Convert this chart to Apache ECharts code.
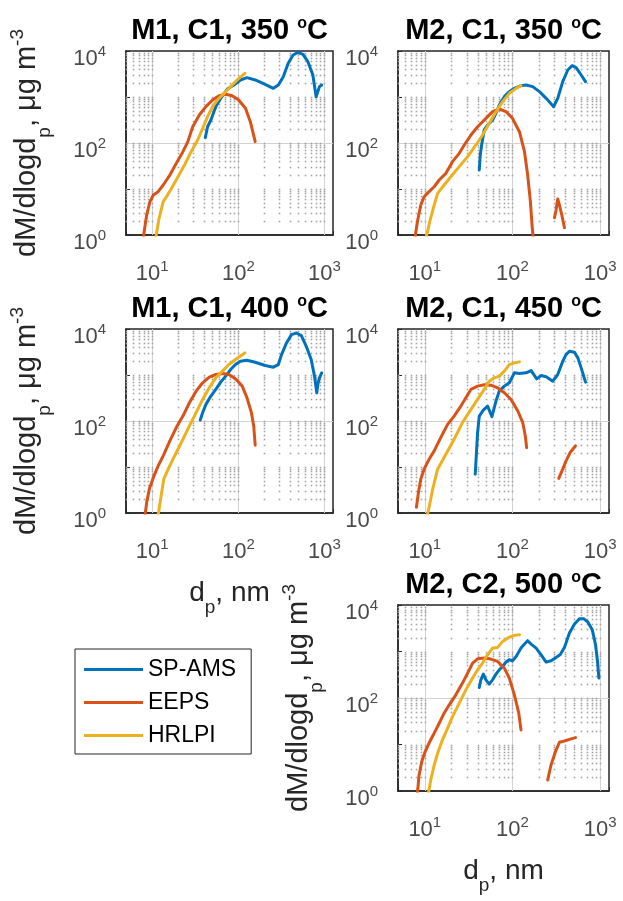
<!DOCTYPE html>
<html>
<head>
<meta charset="utf-8">
<script src="https://cdn.jsdelivr.net/npm/echarts@6/dist/echarts.min.js"></script>
<style>html,body{margin:0;padding:0;background:#fff}#chart{width:623px;height:901px}</style>
</head>
<body>
<div id="chart"></div>
<script>
// ---------------- data ----------------
const seriesNames = ['SP-AMS', 'EEPS', 'HRLPI'];
const panelTitles = ['M1, C1, 350', 'M2, C1, 350', 'M1, C1, 400', 'M2, C1, 450', 'M2, C2, 500'];

// Panel 1: M1, C1, 350 °C
const p1Ams = [[41.3,131],[43.9,226],[48.0,316],[54.7,617],[62.4,935],[74.5,1493],[88.8,1824],[106,2344],[126,2633],[157,2344],[205,1884],[255,1542],[292,1824],[333,2766],[380,5395],[433,8185],[494,9355],[564,8465],[644,5865],[735,3006],[802,1016],[839,1306],[877,1679],[931,1824]];
const p1Eeps = [[7.88,0.9],[8.6,2.72],[9.4,5.3],[10.3,7.4],[11.7,8.75],[13.4,12.2],[16.0,20.1],[19.0,36.1],[22.7,64.9],[25.9,107],[29.5,226],[35.2,406],[42.0,617],[50.1,861],[59.7,1069],[71.3,1143],[85.0,1069],[101,861],[121,568],[138,291],[157,107]];
const p1Hrlpi = [[11.0,0.9],[12.0,2.3],[13.4,5.3],[14.6,6.8],[16.7,10.3],[19.9,18.5],[23.7,33.3],[28.3,64.9],[33.7,116],[38.5,208],[43.9,374],[50.1,617],[57.1,861],[68.2,1202],[81.3,1679],[97.0,2344],[119,3268]];

// Panel 2: M2, C1, 350 °C
const p2Ams = [[41.8,25.9],[42.9,54.8],[44.8,98.4],[47.6,192],[52.0,246],[59.3,316],[64.8,442],[70.7,670],[80.7,1016],[92.0,1306],[105,1542],[125,1762],[143,1824],[170,1679],[203,1306],[242,935],[295,617],[328,935],[374,2153],[427,3862],[479,4800],[532,4345],[607,3006],[680,2153]];
const p2EepsA = [[7.75,0.9],[8.24,1.95],[9.0,4.49],[9.82,6.8],[11.2,8.75],[12.8,11.2],[14.6,15.7],[17.4,21.9],[20.7,39.3],[24.7,59.6],[28.2,90.5],[33.6,149],[40.0,226],[49.8,344],[59.3,480],[70.7,548],[84.3,480],[100,344],[120,176],[137,64.9],[149,20.1],[160,5.3],[167,1.65],[172,0.9]];
const p2EepsB = [[301,2.38],[314,3.49],[328,6.07],[343,4.49],[365,2.72],[391,1.44]];
const p2Hrlpi = [[10.4,0.9],[11.4,1.95],[12.8,4.49],[14.0,8.05],[16.6,12.2],[19.8,18.5],[24.7,30.6],[30.8,50.5],[38.3,90.5],[45.6,149],[54.3,268],[64.8,480],[77.2,792],[92.0,1202],[110,1542],[125,1762]];

// Panel 3: M1, C1, 400 °C
const p3Ams = [[36.1,105],[38.5,152],[42.0,230],[48.0,348],[54.7,486],[62.4,700],[71.3,944],[81.3,1315],[92.7,1687],[106,1994],[126,2096],[157,1896],[205,1606],[255,1479],[292,1687],[318,2780],[363,4977],[415,7540],[473,8190],[540,7178],[616,4215],[703,2166],[768,944],[816,411],[839,622],[877,869],[931,1114]];
const p3Eeps = [[8.24,0.9],[8.61,1.70],[9.24,3.31],[10.3,5.93],[11.7,10.6],[13.4,17.5],[16.0,36.9],[19.0,71.8],[22.7,128],[27.0,249],[32.3,446],[38.5,677],[45.9,897],[54.7,1025],[65.3,1077],[77.8,1025],[92.7,826],[111,573],[126,320],[142,152],[151,78],[157,29.7]];
const p3Hrlpi = [[11.7,0.9],[12.5,2.01],[13.6,5.44],[15.3,8.97],[17.4,14.8],[19.9,24.3],[22.7,40.1],[27.0,78],[32.3,152],[38.5,294],[45.9,527],[54.7,869],[65.3,1211],[77.8,1687],[92.7,2166],[119,3020]];

// Panel 4: M2, C1, 450 °C
const p4Ams = [[37.6,7.0],[40.0,55.8],[41.8,128],[46.5,173],[52.0,211],[58.3,124],[64.8,271],[70.7,446],[80.7,573],[92.0,677],[105,1114],[120,1077],[143,1114],[163,1250],[189,826],[212,976],[242,913],[288,735],[328,1025],[374,1994],[408,2780],[446,3284],[509,3125],[556,2355],[607,1429],[680,700]];
const p4EepsA = [[8.03,1.33],[8.47,2.81],[9.0,5.45],[9.82,8.97],[11.2,14.8],[12.8,22.4],[15.2,43.5],[18.2,84.7],[21.6,128],[25.8,211],[29.4,320],[33.6,486],[40.0,573],[47.6,613],[56.8,602],[67.6,527],[80.7,411],[96.2,294],[115,165],[131,92],[140,47.3],[145,26.4]];
const p4EepsB = [[337,5.64],[374,8.97],[408,13.6],[454,20.6],[523,28.7]];
const p4Hrlpi = [[10.7,0.9],[11.4,1.57],[12.2,3.05],[14.0,8.97],[17.4,19.0],[21.6,40.1],[26.9,92],[33.6,179],[40.0,294],[47.6,486],[54.3,735],[62.0,869],[70.7,944],[80.7,1211],[92.0,1687],[105,1836],[120,1929]];

// Panel 5: M2, C2, 500 °C
const p5Ams = [[41.8,168],[43.6,246],[46.5,326],[49.8,246],[54.3,199],[59.3,246],[64.8,326],[70.7,404],[77.2,478],[84.3,592],[92.0,664],[100,632],[110,783],[125,1186],[137,1446],[149,1706],[163,1446],[186,1186],[212,850],[242,592],[275,632],[314,746],[349,850],[391,1225],[446,2496],[509,3898],[581,5078],[646,5078],[723,4305],[811,2946],[885,1396],[933,611],[966,268]];
const p5EepsA = [[8.24,0.9],[8.61,2.21],[9.24,4.29],[10.1,7.04],[11.4,11.6],[12.8,17.5],[14.6,28.7],[16.6,47.1],[19.0,71.3],[22.6,117],[26.9,209],[30.8,343],[35.1,563],[40.0,698],[47.6,721],[56.8,687],[67.6,611],[80.7,439],[92.0,268],[105,117],[118,47.1],[125,20.6]];
const p5EepsB = [[252,1.73],[275,3.63],[309,7.04],[343,11.2],[391,11.9],[466,13.2],[523,14.1]];
const p5Hrlpi = [[11.0,0.9],[11.7,1.73],[12.8,3.63],[14.0,6.48],[15.9,12.6],[18.2,22.4],[20.7,39.9],[24.7,77.4],[29.4,150],[35.1,268],[40.0,404],[45.6,563],[52.0,850],[59.3,1186],[67.6,1225],[77.2,1649],[90.4,2011],[105,2221],[120,2297]];

// axis ranges and grid-line values
const xRange = [4.95, 1260];
const yRange = [1, 10000];
const xMajorGrid = [10, 100, 1000];
const xMinorGrid = [5,6,7,8,9,20,30,40,50,60,70,80,90,200,300,400,500,600,700,800,900];
const yMajorGrid = [100];
const yMinorGrid = [2,3,4,5,6,7,8,9,10,20,30,40,50,60,70,80,90,200,300,400,500,600,700,800,900,1000,2000,3000,4000,5000,6000,7000,8000,9000];

// ---------------- layout / style ----------------
const FONT = "'Liberation Sans', Arial, Helvetica, sans-serif";
const COLORS = {'SP-AMS': '#0072BD', 'EEPS': '#D95319', 'HRLPI': '#EDB120'};
const AXIS_COLOR = '#262626';
const TICK_COLOR = '#4a4a4a';

const panels = [
  {grid: {left: 126, top: 51, width: 207, height: 184}, yName: true,  xName: false, ams: p1Ams, eeps: [p1Eeps], hrlpi: p1Hrlpi},
  {grid: {left: 398, top: 51, width: 211, height: 184}, yName: false, xName: false, ams: p2Ams, eeps: [p2EepsA, p2EepsB], hrlpi: p2Hrlpi},
  {grid: {left: 126, top: 329, width: 207, height: 184}, yName: true, xName: true, ams: p3Ams, eeps: [p3Eeps], hrlpi: p3Hrlpi},
  {grid: {left: 398, top: 329, width: 211, height: 184}, yName: false, xName: false, ams: p4Ams, eeps: [p4EepsA, p4EepsB], hrlpi: p4Hrlpi},
  {grid: {left: 398, top: 605, width: 211, height: 186}, yName: true, xName: true, ams: p5Ams, eeps: [p5EepsA, p5EepsB], hrlpi: p5Hrlpi}
];

function decadeExp(v) {
  const e = Math.log10(v);
  const r = Math.round(e);
  return Math.abs(e - r) < 1e-6 ? r : null;
}
function xLabel(v) {
  const r = decadeExp(v);
  return r === null ? '' : '{b|10}{s|' + r + '}';
}
function yLabel(v) {
  const r = decadeExp(v);
  return (r === null || r % 2 !== 0) ? '' : '{b|10}{s|' + r + '}';
}
const tickRich = {
  b: {fontSize: 22, fontFamily: FONT, color: TICK_COLOR},
  s: {fontSize: 15, fontFamily: FONT, color: TICK_COLOR, padding: [0, 0, 14, 0]}
};

const grids = [], xAxes = [], yAxes = [], titles = [], series = [];

panels.forEach((p, i) => {
  grids.push(Object.assign({show: true, borderColor: AXIS_COLOR, borderWidth: 1.5, backgroundColor: 'transparent'}, p.grid));
  titles.push({
    text: panelTitles[i] + ' {o|o}C',
    left: p.grid.left + p.grid.width / 2,
    top: p.grid.top - 35,
    textAlign: 'center',
    padding: 0,
    textStyle: {
      fontFamily: FONT, fontSize: 29, fontWeight: 'bold', color: '#000', lineHeight: 29,
      rich: {o: {fontFamily: FONT, fontSize: 16, fontWeight: 'bold', color: '#000', padding: [0, 0, 14, 0]}}
    }
  });
  xAxes.push({
    gridIndex: i, type: 'log', logBase: 10, min: xRange[0], max: xRange[1],
    axisLine: {show: true, onZero: false, lineStyle: {color: AXIS_COLOR, width: 1.5}},
    axisTick: {show: true, inside: true, length: 4, lineStyle: {color: AXIS_COLOR}},
    splitLine: {show: false},
    axisLabel: {formatter: xLabel, margin: 28, lineHeight: 22, color: TICK_COLOR, fontFamily: FONT, fontSize: 22, rich: tickRich},
    name: p.xName ? 'd{sub|p}, nm' : '',
    nameLocation: 'middle', nameGap: 65,
    nameTextStyle: {
      fontFamily: FONT, fontSize: 28, color: AXIS_COLOR, lineHeight: 30,
      rich: {sub: {fontFamily: FONT, fontSize: 19, color: AXIS_COLOR, padding: [30, 0, 0, 0]}}
    }
  });
  yAxes.push({
    gridIndex: i, type: 'log', logBase: 10, min: yRange[0], max: yRange[1],
    axisLine: {show: true, onZero: false, lineStyle: {color: AXIS_COLOR, width: 1.5}},
    axisTick: {show: true, inside: true, length: 4, lineStyle: {color: AXIS_COLOR}},
    splitLine: {show: false},
    axisLabel: {formatter: yLabel, margin: 20, padding: [15, 0, 0, 0], lineHeight: 22, color: TICK_COLOR, fontFamily: FONT, fontSize: 22, rich: tickRich},
    name: p.yName ? 'dM/dlogd{sub|p}, μg m{sup|-3}' : '',
    nameLocation: 'middle', nameRotate: 90, nameGap: 84,
    nameTextStyle: {
      fontFamily: FONT, fontSize: 29, color: AXIS_COLOR, lineHeight: 30,
      rich: {
        sub: {fontFamily: FONT, fontSize: 19, color: AXIS_COLOR, padding: [36, 0, 0, 0]},
        sup: {fontFamily: FONT, fontSize: 19, color: AXIS_COLOR, padding: [0, 0, 18, 0]}
      }
    }
  });

  // grid: major lines solid, minor grid drawn as the dotted lattice, all placed through the axes' scales
  series.push({
    type: 'custom', xAxisIndex: i, yAxisIndex: i, silent: true, z: 1,
    data: [[10, 10]],
    renderItem: function (params, api) {
      const bl = api.coord([xRange[0], yRange[0]]);
      const tr = api.coord([xRange[1], yRange[1]]);
      const kids = [];
      const major = {stroke: '#d2d2d2', lineWidth: 1};
      const dot = {fill: '#a3a3a3'};
      xMajorGrid.forEach(v => {
        const x = Math.round(api.coord([v, yRange[0]])[0]) + 0.5;
        kids.push({type: 'line', shape: {x1: x, y1: bl[1], x2: x, y2: tr[1]}, style: major});
      });
      yMajorGrid.forEach(v => {
        const y = Math.round(api.coord([xRange[0], v])[1]) + 0.5;
        kids.push({type: 'line', shape: {x1: bl[0], y1: y, x2: tr[0], y2: y}, style: major});
      });
      xMinorGrid.concat(xMajorGrid).forEach(xv => {
        yMinorGrid.concat(yMajorGrid).forEach(yv => {
          if (xMajorGrid.indexOf(xv) >= 0 && yMajorGrid.indexOf(yv) >= 0) return;
          const pt = api.coord([xv, yv]);
          kids.push({type: 'rect', shape: {x: Math.round(pt[0]) - 0.3, y: Math.round(pt[1]) - 0.3, width: 1.6, height: 1.6}, style: dot});
        });
      });
      return {type: 'group', children: kids};
    }
  });

  const mkLine = (name, data, z) => ({
    type: 'line', name: name, xAxisIndex: i, yAxisIndex: i, data: data,
    symbol: 'none', showSymbol: false, clip: true, z: z, silent: true,
    itemStyle: {color: COLORS[name]},
    lineStyle: {color: COLORS[name], width: 3, join: 'round', cap: 'round'}
  });
  series.push(mkLine('SP-AMS', p.ams, 3));
  p.eeps.forEach(seg => series.push(mkLine('EEPS', seg, 4)));
  series.push(mkLine('HRLPI', p.hrlpi, 5));
});

const chart = echarts.init(document.getElementById('chart'), null, {renderer: 'canvas'});
chart.setOption({
  animation: false,
  backgroundColor: '#fff',
  title: titles,
  grid: grids,
  xAxis: xAxes,
  yAxis: yAxes,
  legend: {
    data: seriesNames,
    orient: 'vertical',
    left: 75, top: 649,
    icon: 'rect',
    itemWidth: 59, itemHeight: 3, itemGap: 10,
    padding: [9, 15, 7, 9],
    borderColor: AXIS_COLOR, borderWidth: 1,
    backgroundColor: '#fff',
    selectedMode: false,
    textStyle: {fontFamily: FONT, fontSize: 23, color: '#000', lineHeight: 23}
  },
  series: series
});
</script>
</body>
</html>
